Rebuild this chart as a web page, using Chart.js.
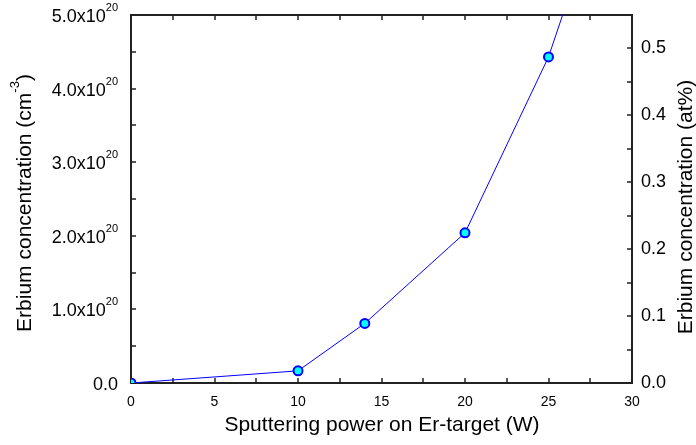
<!DOCTYPE html>
<html>
<head>
<meta charset="utf-8">
<script src="https://cdn.jsdelivr.net/npm/chart.js@4"></script>
<style>
  body { margin: 0; background: #fff; }
  #wrap { width: 696px; height: 445px; }
</style>
</head>
<body>
<div id="wrap"><canvas id="er-chart" width="696" height="445"></canvas></div>
<script>
// sputtering power (W) and Er concentration (cm^-3)
const power = [0, 10, 14, 20, 25, 30];
const erConc = [0, 0.165e20, 0.81e20, 2.04e20, 4.43e20, 7.8e20];

const xTicks = [0, 5, 10, 15, 20, 25, 30];
const leftTicks = [0, 1e20, 2e20, 3e20, 4e20, 5e20];
const rightTicks = [0, 0.1, 0.2, 0.3, 0.4, 0.5];

const FONT = '"Liberation Sans", Arial, sans-serif';

function midpoints(arr) {
    const out = [];
    for (let i = 0; i < arr.length - 1; i++) out.push((arr[i] + arr[i + 1]) / 2);
    return out;
}

const framePlugin = {
    id: 'frame',
    beforeDatasetsDraw(chart) {
        const ctx = chart.ctx;
        const a = chart.chartArea;
        const sx = chart.scales.x, sy = chart.scales.y, sy1 = chart.scales.y1;
        const len = 5;

        ctx.save();
        ctx.strokeStyle = '#222';
        ctx.lineWidth = 2;
        ctx.strokeRect(a.left, a.top, a.right - a.left, a.bottom - a.top);

        ctx.lineWidth = 1.5;
        ctx.beginPath();
        xTicks.concat(midpoints(xTicks)).forEach(v => {
            const px = Math.round(sx.getPixelForValue(v));
            ctx.moveTo(px, a.bottom); ctx.lineTo(px, a.bottom - len);
            ctx.moveTo(px, a.top); ctx.lineTo(px, a.top + len);
        });
        leftTicks.concat(midpoints(leftTicks)).forEach(v => {
            const py = Math.round(sy.getPixelForValue(v));
            ctx.moveTo(a.left, py); ctx.lineTo(a.left + len, py);
        });
        rightTicks.concat(midpoints(rightTicks)).forEach(v => {
            const py = Math.round(sy1.getPixelForValue(v));
            ctx.moveTo(a.right, py); ctx.lineTo(a.right - len, py);
        });
        ctx.stroke();
        ctx.restore();
    },
    afterDraw(chart) {
        const ctx = chart.ctx;
        const a = chart.chartArea;
        const sy = chart.scales.y;

        ctx.save();
        ctx.fillStyle = '#000';
        ctx.textBaseline = 'middle';

        // left tick labels with superscript exponent
        leftTicks.forEach(v => {
            const py = sy.getPixelForValue(v) + 2;
            const right = a.left - 13;
            if (v === 0) {
                ctx.font = '18px ' + FONT;
                ctx.textAlign = 'right';
                ctx.fillText('0.0', right, py);
                return;
            }
            const main = (v / 1e20).toFixed(1) + 'x10';
            ctx.font = '11px ' + FONT;
            const supW = ctx.measureText('20').width;
            ctx.textAlign = 'left';
            ctx.fillText('20', right - supW, py - 9);
            ctx.font = '18px ' + FONT;
            ctx.textAlign = 'right';
            ctx.fillText(main, right - supW, py);
        });

        // left axis title
        ctx.save();
        ctx.translate(25, 203);
        ctx.rotate(-Math.PI / 2);
        ctx.textAlign = 'left';
        const t1 = 'Erbium concentration (cm', t2 = '-3', t3 = ')';
        ctx.font = '21px ' + FONT;
        const w1 = ctx.measureText(t1).width, w3 = ctx.measureText(t3).width;
        ctx.font = '13px ' + FONT;
        const w2 = ctx.measureText(t2).width;
        let x0 = -(w1 + w2 + w3) / 2;
        ctx.font = '21px ' + FONT;
        ctx.fillText(t1, x0, 0);
        ctx.font = '13px ' + FONT;
        ctx.fillText(t2, x0 + w1, -10);
        ctx.font = '21px ' + FONT;
        ctx.fillText(t3, x0 + w1 + w2, 0);
        ctx.restore();

        // right axis title
        ctx.save();
        ctx.translate(686, 207);
        ctx.rotate(-Math.PI / 2);
        ctx.textAlign = 'center';
        ctx.font = '21px ' + FONT;
        ctx.fillText('Erbium concentration (at%)', 0, 0);
        ctx.restore();

        // x axis title
        ctx.textAlign = 'center';
        ctx.font = '21px ' + FONT;
        ctx.fillText('Sputtering power on Er-target (W)', 382, 425);
        ctx.restore();
    }
};

new Chart(document.getElementById('er-chart').getContext('2d'), {
    type: 'line',
    data: {
        datasets: [{
            label: 'Er concentration',
            data: power.map((p, i) => ({ x: p, y: erConc[i] })),
            borderColor: '#0000ff',
            borderWidth: 1,
            backgroundColor: '#00ffff',
            pointBackgroundColor: '#00ffff',
            pointBorderColor: '#0000ff',
            pointBorderWidth: 2,
            pointRadius: 4.5,
            tension: 0,
            clip: 0,
            yAxisID: 'y'
        }]
    },
    options: {
        responsive: false,
        animation: false,
        devicePixelRatio: 1,
        layout: { padding: { top: 15, left: 0, right: 0, bottom: 0 } },
        plugins: { legend: { display: false }, tooltip: { enabled: false } },
        scales: {
            x: {
                type: 'linear',
                min: 0,
                max: 30,
                afterBuildTicks: s => { s.ticks = xTicks.map(v => ({ value: v })); },
                afterFit: s => { s.height = 62; },
                grid: { display: false },
                border: { display: false },
                ticks: { color: '#000', padding: 3, maxRotation: 0, font: { family: FONT, size: 14 } }
            },
            y: {
                type: 'linear',
                position: 'left',
                min: 0,
                max: 5e20,
                afterFit: s => { s.width = 131; },
                grid: { display: false },
                border: { display: false },
                ticks: { display: false }
            },
            y1: {
                type: 'linear',
                position: 'right',
                min: 0,
                max: 0.55,
                afterBuildTicks: s => { s.ticks = rightTicks.map(v => ({ value: v })); },
                afterFit: s => { s.width = 64; },
                grid: { display: false },
                border: { display: false },
                ticks: {
                    color: '#000',
                    padding: 1,
                    font: { family: FONT, size: 18 },
                    callback: v => v.toFixed(1)
                }
            }
        }
    },
    plugins: [framePlugin]
});
</script>
</body>
</html>
